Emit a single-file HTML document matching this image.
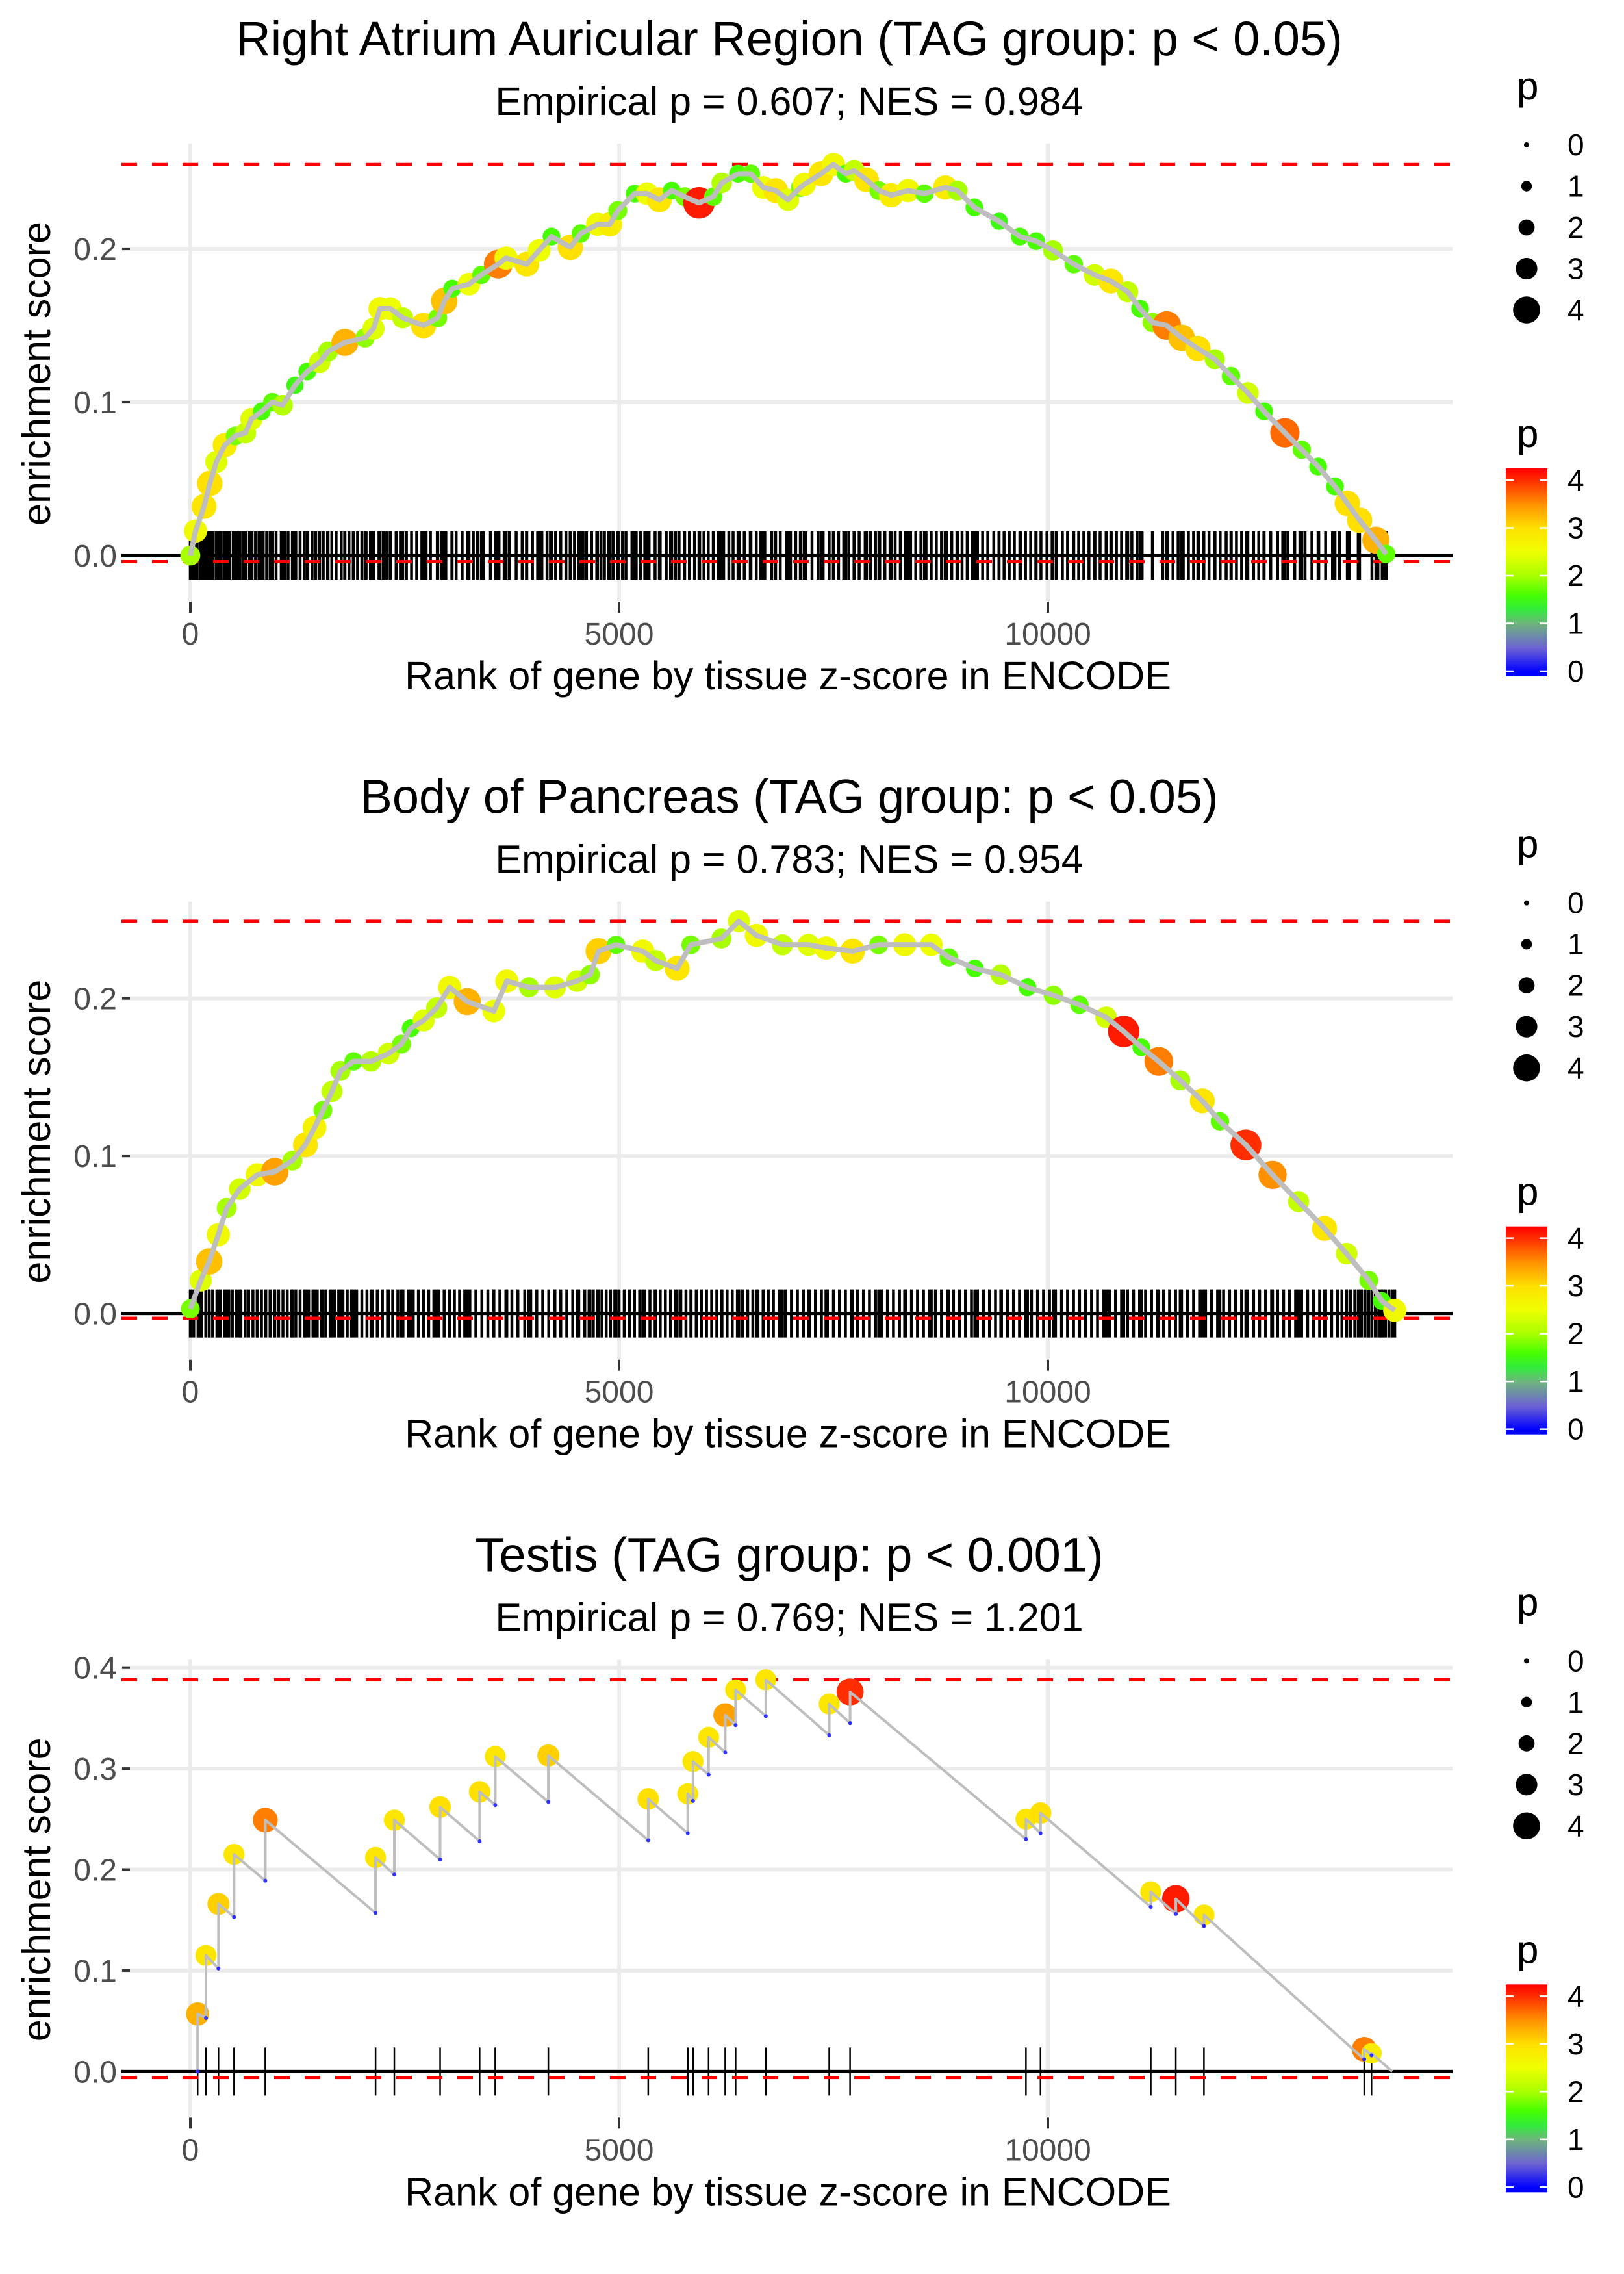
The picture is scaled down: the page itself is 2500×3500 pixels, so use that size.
<!DOCTYPE html>
<html><head><meta charset="utf-8"><style>
html,body{margin:0;padding:0;background:#fff;}
svg{display:block;font-family:"Liberation Sans",Arial,sans-serif;}
</style></head><body>
<svg id="chart" width="2500" height="3500" viewBox="0 0 2500 3500" xmlns="http://www.w3.org/2000/svg">
<defs>
<linearGradient id="cbar" x1="0" y1="1" x2="0" y2="0">
<stop offset="0" stop-color="#0000ff"/>
</linearGradient>
</defs>
</svg>
<script>
// ---------- Panel 1: Right Atrium Auricular Region ----------
const p1Ranks=[0,61,160,227,303,402,523,644,712,833,955,1076,1220,1364,1508,1606,1803,2038,2136,2212,2333,2477,2720,2886,2962,3053,3250,3394,3591,3682,3924,4068,4212,4432,4553,4750,4894,4985,5182,5326,5470,5614,5765,5932,6099,6197,6387,6538,6682,6826,6970,7114,7159,7356,7500,7644,7742,7886,8030,8174,8371,8561,8803,8947,9144,9432,9674,9864,10061,10303,10545,10735,10932,11076,11220,11387,11561,11750,11947,12136,12333,12523,12765,12962,13152,13349,13493,13636,13826,13947];
const p1ES=[0,0.016,0.032,0.047,0.061,0.072,0.078,0.080,0.089,0.094,0.100,0.098,0.111,0.120,0.126,0.133,0.139,0.142,0.148,0.161,0.161,0.155,0.150,0.155,0.166,0.174,0.177,0.183,0.190,0.194,0.190,0.199,0.208,0.201,0.210,0.216,0.216,0.225,0.236,0.236,0.232,0.238,0.234,0.230,0.234,0.243,0.249,0.249,0.240,0.238,0.232,0.240,0.242,0.249,0.255,0.249,0.251,0.245,0.238,0.235,0.238,0.236,0.240,0.238,0.227,0.218,0.208,0.205,0.199,0.190,0.183,0.179,0.172,0.161,0.152,0.150,0.142,0.135,0.128,0.117,0.106,0.094,0.080,0.069,0.058,0.045,0.034,0.023,0.010,0.001];
const p1P=[2.0,2.6,2.9,3.0,2.4,2.8,1.8,2.2,2.4,1.6,1.7,2.1,1.5,1.6,2.3,2.0,3.3,1.9,2.4,2.6,2.5,2.2,3.0,1.8,3.2,1.6,2.5,1.7,3.6,2.6,2.9,2.5,1.6,3.0,1.7,2.6,2.8,1.8,1.6,2.5,2.9,1.6,1.8,4.1,1.7,2.1,1.6,1.7,2.5,2.9,2.4,1.8,2.6,2.9,2.6,1.6,2.2,2.9,1.8,2.8,2.6,1.7,2.8,2.0,1.6,1.5,1.6,1.6,2.0,1.7,2.3,2.9,2.2,1.6,1.9,3.6,3.2,3.0,2.0,1.7,2.3,1.6,3.7,1.7,1.6,1.6,3.0,3.0,3.3,1.7];
const p1Rug=[30,75,110,140,170,200,230,260,300,330,360,395,430,460,500,540,575,610,650,690,720,760,800,850,890,930,960,1000,1060,1100,1140,1190,1230,1280,1330,1370,1420,1460,1500,1550,1600,1650,1700,1760,1800,1850,1900,1950,2000,2050,2100,2140,2200,2250,2290,2330,2400,2450,2520,2580,2640,2700,2750,2800,2880,2930,2980,3050,3100,3170,3230,3300,3350,3420,3500,3560,3600,3660,3720,3800,3870,3920,3990,4050,4100,4160,4200,4260,4320,4380,4430,4480,4530,4580,4620,4680,4740,4790,4830,4880,4930,4990,5040,5080,5150,5200,5250,5300,5350,5420,5480,5550,5600,5660,5700,5760,5820,5880,5940,5990,6040,6100,6160,6220,6280,6330,6400,6460,6530,6600,6650,6700,6780,6820,6880,6950,7000,7060,7120,7180,7250,7320,7380,7450,7500,7560,7620,7680,7740,7800,7870,7930,7990,8040,8100,8160,8220,8280,8340,8400,8460,8520,8580,8640,8700,8760,8820,8880,8940,9000,9060,9120,9180,9240,9300,9370,9430,9490,9550,9610,9680,9740,9800,9860,9920,9990,10050,10100,10170,10230,10300,10360,10420,10480,10550,10610,10680,10740,10800,10860,10920,10980,11040,11100,11340,11400,11460,11520,11580,11640,11700,11760,11820,11880,11950,12010,12080,12140,12200,12260,12320,12400,12460,12520,12600,12680,12740,12800,12880,12940,13000,13080,13160,13240,13320,13400,13520,13620,13780,13850,13900,13940];
// ---------- Panel 2: Body of Pancreas ----------
const p2Ranks=[0,121,220,326,424,576,780,985,1190,1342,1448,1546,1652,1751,1903,2107,2312,2463,2570,2721,2873,3024,3229,3540,3691,3949,4252,4510,4662,4760,4965,5276,5427,5677,5837,6193,6397,6602,6905,7209,7413,7724,8027,8331,8641,8846,9149,9452,9763,10066,10369,10680,10885,11090,11294,11544,11802,12007,12310,12621,12924,13227,13485,13743,13894,14046];
const p2ES=[0.003,0.021,0.033,0.050,0.067,0.079,0.088,0.090,0.097,0.107,0.118,0.129,0.141,0.154,0.160,0.160,0.165,0.171,0.181,0.186,0.194,0.207,0.198,0.192,0.211,0.207,0.207,0.211,0.215,0.230,0.234,0.230,0.224,0.219,0.234,0.238,0.249,0.240,0.234,0.234,0.232,0.230,0.234,0.234,0.234,0.226,0.219,0.215,0.207,0.202,0.196,0.188,0.179,0.169,0.160,0.148,0.135,0.122,0.107,0.088,0.071,0.054,0.038,0.021,0.008,0.002];
const p2P=[1.8,2.4,3.2,2.6,2.0,2.3,2.6,3.4,2.0,2.9,2.7,1.8,2.2,2.0,1.7,2.1,2.3,1.8,1.6,2.4,2.2,2.6,3.3,2.5,2.6,2.0,2.4,2.3,1.9,3.1,1.7,2.6,2.2,2.9,1.8,2.0,2.4,2.6,2.2,2.4,2.6,2.9,1.8,2.6,2.5,1.7,1.6,2.1,1.6,1.9,1.7,2.3,4.1,1.6,3.6,2.0,2.9,1.7,4.0,3.5,2.2,2.9,2.3,1.8,1.6,2.6];
const p2Rug=[40,90,130,180,220,260,310,350,400,450,490,540,590,640,680,730,780,830,880,930,980,1030,1080,1130,1180,1230,1280,1330,1380,1430,1480,1530,1580,1630,1680,1730,1780,1830,1880,1940,2000,2060,2120,2180,2240,2300,2360,2420,2480,2540,2600,2660,2720,2780,2840,2900,2960,3020,3080,3140,3200,3260,3330,3400,3470,3540,3610,3680,3750,3820,3900,3970,4040,4110,4180,4250,4320,4390,4460,4530,4600,4650,4700,4750,4800,4850,4900,4950,5000,5060,5120,5180,5240,5300,5360,5420,5480,5540,5600,5660,5720,5780,5840,5900,5960,6020,6080,6140,6200,6260,6320,6380,6440,6500,6560,6620,6680,6740,6800,6870,6940,7010,7080,7150,7220,7290,7360,7430,7500,7570,7640,7710,7780,7850,7920,7990,8060,8130,8200,8270,8340,8410,8480,8550,8620,8690,8760,8830,8900,8970,9040,9110,9180,9250,9320,9390,9460,9530,9600,9670,9740,9810,9880,9950,10020,10090,10160,10230,10300,10370,10440,10510,10580,10650,10720,10790,10860,10930,11000,11070,11140,11210,11280,11350,11420,11490,11560,11630,11700,11770,11840,11910,11980,12050,12120,12190,12260,12330,12400,12470,12540,12610,12680,12750,12820,12890,12960,13030,13100,13170,13240,13310,13380,13430,13480,13530,13580,13620,13660,13700,13740,13780,13820,13860,13900,13940,13980,14020];
// ---------- Panel 3: Testis ----------
const p3Ranks=[85,182,328,510,874,2160,2379,2913,3374,3556,4175,5340,5801,5862,6044,6238,6359,6711,7451,7694,9745,9915,11201,11493,11821,13690,13775];
const p3High=[0.057,0.115,0.166,0.215,0.249,0.212,0.249,0.262,0.277,0.312,0.313,0.270,0.275,0.307,0.331,0.353,0.378,0.388,0.364,0.376,0.250,0.256,0.178,0.171,0.155,0.022,0.018];
const p3Low=[0.000,0.053,0.102,0.153,0.189,0.157,0.195,0.210,0.228,0.264,0.267,0.229,0.236,0.268,0.294,0.316,0.343,0.352,0.333,0.345,0.230,0.236,0.163,0.156,0.144,0.012,0.016];
const p3P=[3.3,2.9,3.1,2.9,3.6,2.9,2.9,3.0,3.0,2.9,3.1,3.0,2.9,2.9,2.9,3.4,2.9,2.9,2.9,4.0,2.9,3.0,2.9,4.1,2.9,3.6,2.8];
const p3End=[14017,0];
// ---------- shared ----------
const titles=["Right Atrium Auricular Region (TAG group: p < 0.05)","Body of Pancreas (TAG group: p < 0.05)","Testis (TAG group: p < 0.001)"];
const subtitles=["Empirical p = 0.607; NES = 0.984","Empirical p = 0.783; NES = 0.954","Empirical p = 0.769; NES = 1.201"];
const yTicks=[[0,0.1,0.2],[0,0.1,0.2],[0,0.1,0.2,0.3,0.4]];
const yTickLabels=[["0.0","0.1","0.2"],["0.0","0.1","0.2"],["0.0","0.1","0.2","0.3","0.4"]];
const esMinLine=[-0.004,-0.003,-0.006];
const xTicks=[0,5000,10000];
const xTickLabels=["0","5000","10000"];
const sizeLegend=[0,1,2,3,4];
const colorLegend=[0,1,2,3,4];

const NS="http://www.w3.org/2000/svg";
const svg=document.getElementById('chart');
const PH=3500/3;
const X0=293, XPX=660/5000;
const yZero=855;
const yUnit=[2360,2425,1554];
const PL=187, PR=2236, PT=221, PB=925;
function xs(r){return X0+r*XPX;}
function mk(tag,attrs,parent){const e=document.createElementNS(NS,tag);for(const k in attrs)e.setAttribute(k,attrs[k]);parent.appendChild(e);return e;}
const cstops=[[0,[0,0,255]],[0.5,[110,100,210]],[1,[110,180,125]],[1.3,[50,235,60]],[1.6,[70,255,0]],[2,[168,255,0]],[2.5,[238,255,0]],[3,[255,224,0]],[3.5,[255,145,0]],[4,[255,45,0]],[4.25,[255,0,0]]];
function col(p){
  if(p<=0)return 'rgb(0,0,255)';
  for(let i=1;i<cstops.length;i++){if(p<=cstops[i][0]){const a=cstops[i-1],b=cstops[i];const t=(p-a[0])/(b[0]-a[0]);const c=a[1].map((v,j)=>Math.round(v+(b[1][j]-v)*t));return 'rgb('+c.join(',')+')';}}
  return 'rgb(255,0,0)';
}
function rad(p){return 4+4.2*p;}
const grad=document.getElementById('cbar');
grad.innerHTML='';
for(let v=-0.1;v<=4.26;v+=0.05){const s=document.createElementNS(NS,'stop');s.setAttribute('offset',((v+0.1)/4.35).toFixed(4));s.setAttribute('stop-color',col(v));grad.appendChild(s);}

const panels=[
 {ranks:p1Ranks,es:p1ES,p:p1P,rug:p1Rug.concat(p1Ranks)},
 {ranks:p2Ranks,es:p2ES,p:p2P,rug:p2Rug.concat(p2Ranks)},
 {ranks:p3Ranks,es:p3High,low:p3Low,p:p3P,rug:p3Ranks}
];
panels.forEach((pd,i)=>{
  const g=mk('g',{transform:'translate(0,'+(i*PH)+')'},svg);
  
  
  const U=yUnit[i];
  const ys=v=>yZero-v*U;
  yTicks[i].forEach((v,k)=>{
    const l=mk('line',{x1:PL,x2:PR,y1:ys(v),y2:ys(v),stroke:'#ebebeb','stroke-width':6},g);
    
    
  });
  xTicks.forEach(v=>{
    const l=mk('line',{x1:xs(v),x2:xs(v),y1:PT,y2:PB,stroke:'#ebebeb','stroke-width':6},g);
    
    
  });
  yTicks[i].forEach((v,k)=>{
    const t=mk('line',{x1:188,x2:200,y1:ys(v),y2:ys(v),stroke:'#333','stroke-width':4},g);
    
    
    const tx=mk('text',{x:180,y:ys(v)+17,'text-anchor':'end','font-size':48,fill:'#4d4d4d'},g);
    tx.textContent=yTickLabels[i][k];
    
    
  });
  xTicks.forEach((v,k)=>{
    const t=mk('line',{x1:xs(v),x2:xs(v),y1:926,y2:943,stroke:'#333','stroke-width':4},g);
    
    
    const tx=mk('text',{x:xs(v),y:992,'text-anchor':'middle','font-size':48,fill:'#4d4d4d'},g);
    tx.textContent=xTickLabels[k];
    
    
  });
  pd.rug.forEach(r=>{
    const l=mk('line',{x1:xs(r),x2:xs(r),y1:818,y2:892,stroke:'#000','stroke-width':i===2?2.5:4.5},g);
    
    
  });
  const z=mk('line',{x1:PL,x2:PR,y1:ys(0),y2:ys(0),stroke:'#000','stroke-width':5},g);
  
  
  const mx=Math.max(...pd.es);
  [mx,esMinLine[i]].forEach((v,k)=>{
    const l=mk('line',{x1:PL,x2:PR,y1:ys(v),y2:ys(v),stroke:'#ff0000','stroke-width':5,'stroke-dasharray':'24 23'},g);
    
    
  });
  pd.ranks.forEach((r,k)=>{
    const c=mk('circle',{cx:xs(r),cy:ys(pd.es[k]),r:rad(pd.p[k])+(i===2?0:3),fill:col(pd.p[k])},g);
    
    
  });
  let pts=[];
  if(pd.low){
    pd.ranks.forEach((r,k)=>{pts.push([xs(r),ys(pd.low[k])]);pts.push([xs(r),ys(pd.es[k])]);});
    pts.push([xs(p3End[0]),ys(p3End[1])]);
  } else {
    pd.ranks.forEach((r,k)=>pts.push([xs(r),ys(pd.es[k])]));
  }
  const pl=mk('polyline',{points:pts.map(q=>q[0].toFixed(1)+','+q[1].toFixed(1)).join(' '),fill:'none',stroke:'#bebebe','stroke-width':i===2?4:8,'stroke-linejoin':'round'},g);
  
  
  if(pd.low){
    pd.ranks.forEach((r,k)=>{
      const c=mk('circle',{cx:xs(r),cy:ys(pd.low[k]),r:3,fill:'#3030ff'},g);
      
      
    });
  }
  const t1=mk('text',{x:1215,y:85,'text-anchor':'middle','font-size':74,fill:'#000'},g);
  t1.textContent=titles[i];
  
  
  const t2=mk('text',{x:1215,y:177,'text-anchor':'middle','font-size':61,fill:'#000'},g);
  t2.textContent=subtitles[i];
  
  
  const xt=mk('text',{x:1213,y:1061,'text-anchor':'middle','font-size':61,fill:'#000'},g);
  xt.textContent='Rank of gene by tissue z-score in ENCODE';
  
  
  const yt=mk('text',{x:0,y:0,'text-anchor':'middle','font-size':61,fill:'#000',transform:'translate(77,575) rotate(-90)'},g);
  yt.textContent='enrichment score';
  
  
  const sl=mk('text',{x:2335,y:153,'font-size':60,fill:'#000'},g);
  sl.textContent='p';
  
  
  sizeLegend.forEach((v,k)=>{
    const cy=223+k*63.5;
    const c=mk('circle',{cx:2350,cy:cy,r:rad(v),fill:'#000'},g);
    
    
    const tx=mk('text',{x:2413,y:cy+16,'font-size':46,fill:'#000'},g);
    tx.textContent=String(v);
    
    
  });
  const cl=mk('text',{x:2335,y:688,'font-size':60,fill:'#000'},g);
  cl.textContent='p';
  
  
  const cb=mk('rect',{x:2318,y:721,width:64,height:320,fill:'url(#cbar)'},g);
  
  
  colorLegend.forEach(v=>{
    const y=1033-v*73.5;
    [[2318,2330],[2370,2382]].forEach(s=>{
      const l=mk('line',{x1:s[0],x2:s[1],y1:y,y2:y,stroke:'#fff','stroke-width':2.5},g);
      
      
    });
    const tx=mk('text',{x:2413,y:y+16,'font-size':46,fill:'#000'},g);
    tx.textContent=String(v);
    
    
  });
});
</script>
</body></html>
